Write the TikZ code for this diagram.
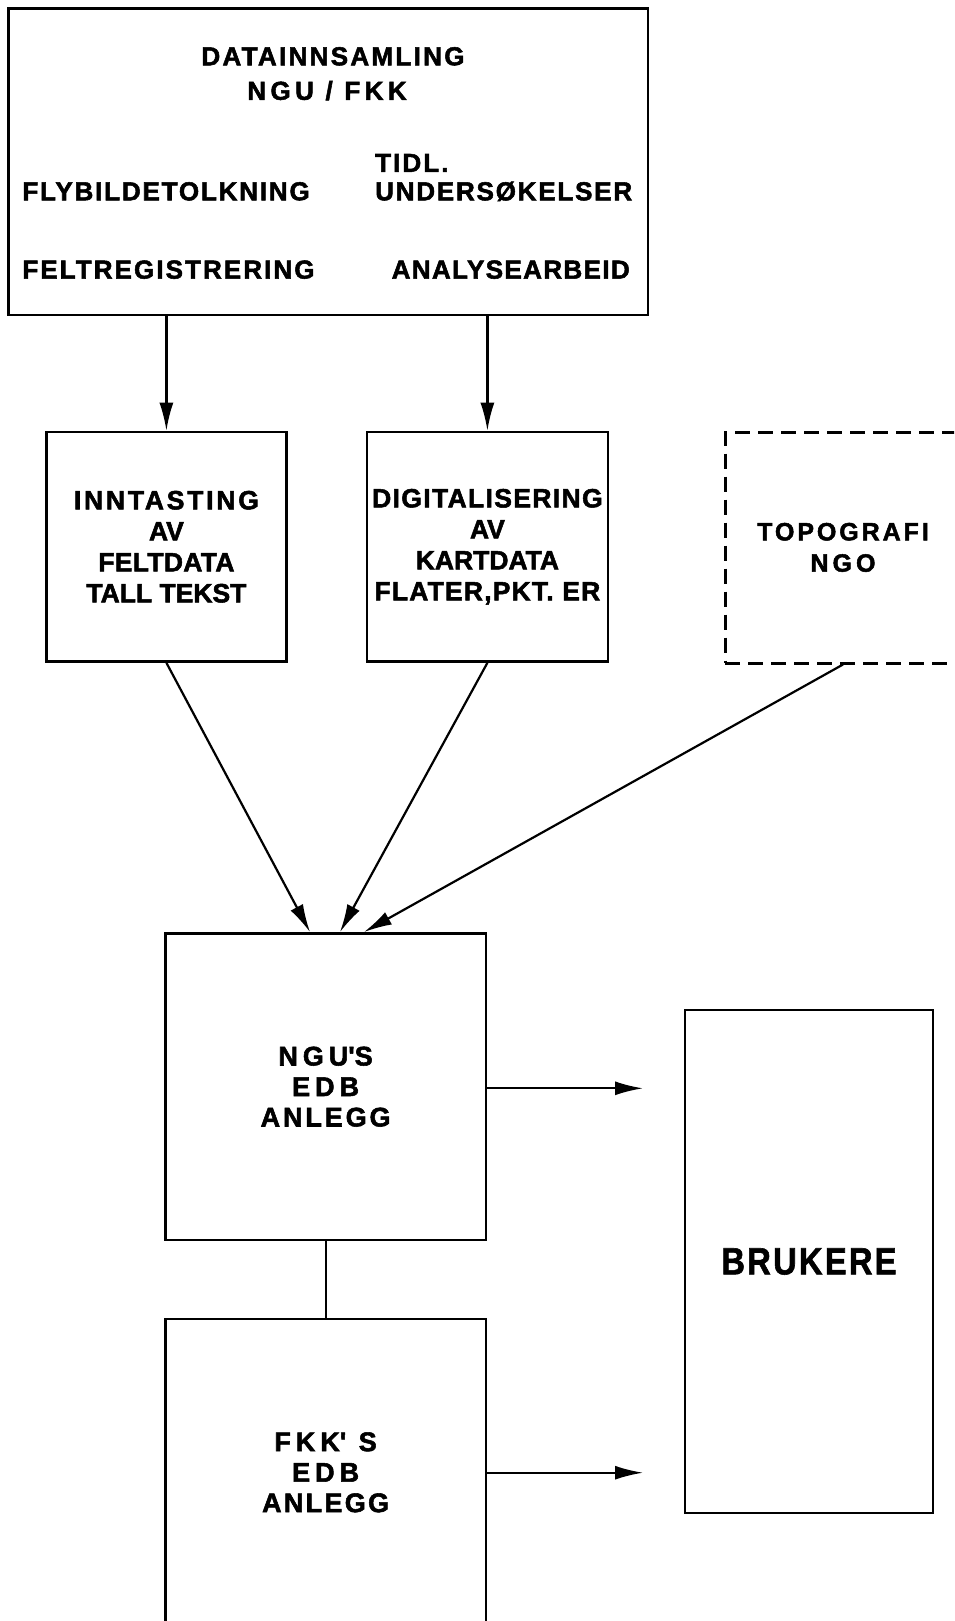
\documentclass[tikz,border=0pt]{standalone}
\usepackage{fontspec}
\setmainfont{Liberation Sans}[BoldFeatures={FakeBold=2}]
\newfontfamily\brukfont{Liberation Sans Bold}[FakeBold=1.5,FakeStretch=0.86]
\usetikzlibrary{arrows.meta}
\newcommand{\ls}[2]{{\addfontfeature{LetterSpace=#1}#2}}
\tikzset{
  box/.style={draw, rectangle, line width=2.6pt, inner sep=0pt},
  dbox/.style={draw, rectangle, line width=3pt, inner sep=0pt, dash pattern=on 15pt off 8pt},
  lbl/.style={inner sep=0pt, font=\bfseries\fontsize{26}{29}\selectfont},
  mid/.style={align=center, font=\bfseries\fontsize{26.5}{31}\selectfont},
  big/.style={align=center, font=\bfseries\fontsize{27}{30.5}\selectfont},
  arr/.style={line width=2.2pt, -{Latex[length=28pt,width=14pt]}},
  conn/.style={line width=2.2pt}
}
\begin{document}
\begin{tikzpicture}[x=1pt,y=-1pt]
\useasboundingbox (0,0) rectangle (954,1621);
\fill[white] (0,0) rectangle (954,1621);
\clip (0,0) rectangle (954,1621);

% top box
\node[box, minimum width=639.7pt, minimum height=306.7pt] (top) at (328.15,161.65) {};
\node[lbl, anchor=base] (datainn) at (333,65.3) {\ls{8.9}{DATAINNSAMLING}};
\node[lbl, anchor=base] (ngufkk) at (327,99.8) {\ls{17}{NGU / FKK}};
\node[lbl, anchor=base west] (tidl) at (375,171.9) {\ls{8}{TIDL.}};
\node[lbl, anchor=base west] (unders) at (375,200.3) {\ls{6.9}{UNDERSØKELSER}};
\node[lbl, anchor=base west] (flybilde) at (22.2,200.3) {\ls{7}{FLYBILDETOLKNING}};
\node[lbl, anchor=base west] (feltreg) at (22.2,278.6) {\ls{8}{FELTREGISTRERING}};
\node[lbl, anchor=base west] (analyse) at (391.5,278.6) {\ls{5.3}{ANALYSEARBEID}};

% middle row
\node[box, mid, minimum width=239.8pt, minimum height=229.5pt] (inn) at (166.4,546.75)
  {\ls{10.5}{INNTASTING}\\AV\\\ls{1.2}{FELTDATA}\\TALL TEKST};
\node[box, mid, minimum width=240.8pt, minimum height=229.5pt] (dig) at (487.4,546.75)
  {\ls{5.1}{DIGITALISERING}\\AV\\KARTDATA\\\ls{4.5}{FLATER,PKT. ER}};
\node[dbox, minimum width=265pt, minimum height=230.7pt] (topo) at (857.5,547.65) {};
\node[align=center, inner sep=0pt, font=\bfseries\fontsize{25}{31.3}\selectfont] (topotxt) at (843,547.4)
  {\ls{11.7}{TOPOGRAFI}\\\ls{16}{NGO}};

% lower
\node[box, big, minimum width=320.4pt, minimum height=306.7pt] (ngu) at (325.6,1086.7)
  {\ls{18.3}{NGU\textquotesingle S}\\\ls{18.5}{EDB}\\\ls{10.7}{ANLEGG}};
\node[box, big, minimum width=320.4pt, minimum height=306.7pt] (fkk) at (325.6,1472.35)
  {\ls{18.4}{FKK\textquotesingle\ S}\\\ls{18.5}{EDB}\\\ls{8.5}{ANLEGG}};
\node[box, minimum width=248pt, minimum height=503pt, font=\brukfont\fontsize{38}{40}\selectfont] (bruk) at (809,1261.5)
  {\ls{6}{BRUKERE}};

% connectors
\draw[arr] (top.south -| inn) -- (inn.north);
\draw[arr] (top.south -| dig) -- (dig.north);
\coordinate (toposouth) at (topotxt |- topo.south);
\draw[arr] (inn.south) -- ([xshift=-15.6pt]ngu.north);
\draw[arr] (dig.south) -- ([xshift=14.4pt]ngu.north);
\draw[arr] (toposouth) -- ([xshift=38.4pt]ngu.north);
\draw[conn] (ngu.south) -- (fkk.north);
\coordinate (e1) at (643,1088.3);
\coordinate (e2) at (643,1472.7);
\draw[arr] (e1 -| ngu.east) -- (e1);
\draw[arr] (e2 -| fkk.east) -- (e2);
\end{tikzpicture}
\end{document}
